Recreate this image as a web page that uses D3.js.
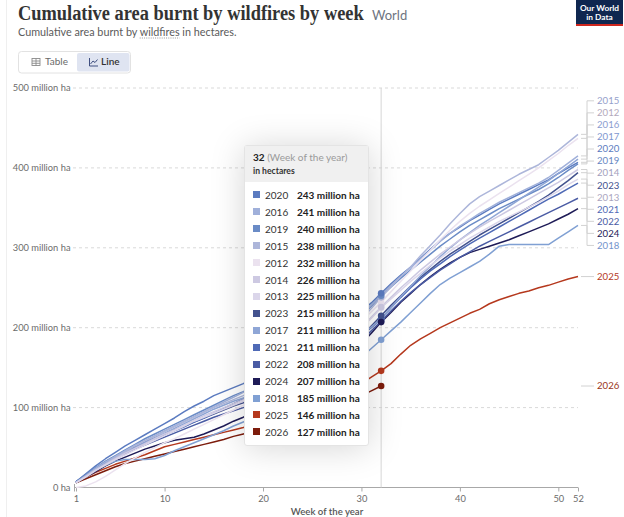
<!DOCTYPE html>
<html><head><meta charset="utf-8">
<script src="https://cdn.jsdelivr.net/npm/d3@7"></script>
<style>
body{margin:0;background:#fff;font-family:Lato,"Noto Sans",sans-serif;}
#wrap{position:relative;width:624px;height:517px;overflow:hidden;}
#tip{position:absolute;background:#fff;border:1px solid #e4e4e4;border-radius:3px;box-shadow:0 2px 34px rgba(0,0,0,0.17);font-family:Lato,sans-serif;color:#2d2d2d;}
#tip .hd{background:#f0f0f0;padding:5px 8px 0 8px;height:31px;box-sizing:content-box;}
#tip .t1{font-size:10px;line-height:13px;}
#tip .t1 b{font-weight:700;color:#222;}
#tip .t1 span{color:#9a9a9a;}
#tip .t2{font-size:8.6px;font-weight:700;color:#333;margin-top:2px;}
#tip table{border-collapse:collapse;margin:5px 0 0 8px;}
#tip td{font-size:10px;height:16.93px;padding:0;white-space:nowrap;}
#tip td.sw{width:12px;}
#tip td.sw div{width:7px;height:7px;}
#tip td.yr{width:32px;color:#333;}
#tip td.vl{font-weight:700;color:#222;}
</style></head>
<body><div id="wrap"><svg id="c" width="624" height="517"></svg><div id="tip"></div></div>
<script>
// ---------- data ----------
const weeks = [1,2,3,4,5,6,7,8,9,10,11,12,13,14,15,16,17,18,19,20,21,22,23,24,25,26,27,28,29,30,31,32,33,34,35,36,37,38,39,40,41,42,43,44,45,46,47,48,49,50,51,52];
const years = ["2012","2013","2014","2015","2016","2017","2018","2019","2020","2021","2022","2023","2024","2025","2026"];
const xTicks = [1,10,20,30,40,50,52];
const yTicks = [0,100,200,300,400,500];
const hoverWeek = 32;
// cumulative area burnt, million hectares, by week
const s2012 = [0,2,7,14,22,30,37,44,50,56,61,67,73,79,85,91,97,103,110,117,124,132,140,148,157,166,176,186,197,208,220,232,245,258,271,284,297,310,322,333,343,352,360,368,376,384,392,400,409,418,428,437];
const s2013 = [6,13,21,28,35,41,47,53,59,65,71,77,83,88,93,98,103,108,114,120,126,133,140,147,155,163,171,180,189,200,212,225,236,247,258,268,278,287,296,304,312,319,326,333,339,345,351,357,364,371,379,386];
const s2014 = [6,14,22,29,36,43,49,55,61,67,72,78,84,90,95,100,105,110,116,122,128,135,142,149,156,164,172,181,190,200,213,226,238,250,261,272,282,292,301,310,318,326,333,340,347,354,361,368,375,382,390,398];
const s2015 = [6,14,22,30,38,45,52,58,64,70,76,82,88,94,100,105,110,115,121,127,134,141,148,156,164,172,181,190,200,211,224,238,251,264,276,290,303,316,330,343,355,364,371,378,385,392,398,404,413,422,432,442];
const s2016 = [6,15,24,32,39,46,53,59,65,71,77,83,89,95,101,107,113,119,125,131,138,145,152,159,167,175,184,194,205,216,228,241,253,264,275,286,297,308,318,327,335,343,350,357,363,369,375,381,388,397,406,415];
const s2017 = [6,14,22,30,37,44,50,56,62,68,74,80,86,92,98,103,108,112,116,121,126,131,137,143,150,157,164,172,181,191,201,211,225,239,252,265,277,289,300,310,319,328,336,344,352,360,368,376,384,393,402,411];
const s2018 = [6,14,22,28,33,35,35,35,36,40,46,51,56,61,66,71,77,82,87,92,98,104,110,116,122,129,136,144,153,163,174,185,196,207,219,231,243,254,262,269,276,283,292,302,304,304,304,304,304,312,320,328];
const s2019 = [7,16,25,33,40,47,54,61,67,73,79,85,91,97,103,109,115,120,126,132,139,146,153,160,168,176,185,194,204,215,227,240,251,262,272,282,292,302,311,320,328,335,342,349,355,361,367,373,380,388,397,405];
const s2020 = [7,17,27,36,44,52,59,66,73,80,87,95,102,108,115,120,125,130,137,144,151,158,165,172,179,186,193,201,210,220,231,243,255,266,276,287,298,309,318,326,334,341,348,355,361,367,373,379,385,393,400,407];
const s2021 = [7,16,24,31,38,44,50,56,61,66,71,76,82,87,93,99,105,111,116,121,127,133,139,145,151,158,165,173,181,190,200,211,225,238,250,261,271,280,289,297,305,312,319,326,333,340,347,354,361,367,374,381];
const s2022 = [7,15,23,30,36,42,48,53,58,63,68,73,78,83,88,92,96,100,105,110,116,122,128,134,141,148,156,165,174,184,196,208,221,233,244,254,263,272,280,288,295,302,308,314,320,326,332,338,344,350,356,362];
const s2023 = [7,15,23,31,38,45,51,57,62,67,72,77,82,87,92,97,102,106,111,116,122,128,134,140,147,154,162,170,179,189,202,215,228,240,252,263,273,283,292,300,308,316,323,330,337,344,351,358,366,375,384,394];
const s2024 = [6,13,20,27,33,38,43,48,52,56,59,61,63,67,72,77,83,88,94,100,106,112,119,126,133,141,149,158,168,180,193,207,219,232,243,254,264,273,281,288,294,298,302,306,310,315,320,325,330,336,342,349];
const s2025 = [6,13,19,24,29,33,37,41,46,51,54,57,60,63,66,69,72,75,79,83,87,91,95,99,103,107,112,117,123,130,138,146,155,167,178,186,193,200,206,212,218,223,230,235,239,243,246,250,253,257,261,264];
const s2026 = [6,11,16,21,26,30,33,36,39,42,45,48,51,54,57,60,64,67,70,73,76,79,83,87,91,95,99,104,109,115,121,127];
const seriesValues = [s2012,s2013,s2014,s2015,s2016,s2017,s2018,s2019,s2020,s2021,s2022,s2023,s2024,s2025,s2026];

// ---------- styles ----------
const colors = {"2012":"#ebe2ef","2013":"#dbd6ea","2014":"#cdc9e2","2015":"#adb6da","2016":"#a0b0da","2017":"#8fa6d6","2018":"#80a0d3","2019":"#6a8bc6","2020":"#5b7bc0","2021":"#4f6ab6","2022":"#4a5ba4","2023":"#43528e","2024":"#1e1b57","2025":"#b5381d","2026":"#7d1c0c"};
const labelColors = {"2012":"#b3a9bb","2013":"#aaa5c0","2014":"#a39fbd","2015":"#95a0cb","2016":"#8b9dd0","2017":"#7e96cf","2018":"#7393cc","2019":"#6787c3","2020":"#5b7bc0","2021":"#4f6ab6","2022":"#4a5ba4","2023":"#43528e","2024":"#1e1b57","2025":"#b5381d","2026":"#9a3418"};

const series = years.map((y,i)=>({year:y, values:seriesValues[i].map((v,j)=>({w:weeks[j], v}))}));

const svg = d3.select("#c");
const x = d3.scaleLinear().domain([1,52]).range([76,578]);
const y = d3.scaleLinear().domain([0,500]).range([487.5,88]);

// frame line
svg.append("line").attr("x1",6.5).attr("x2",6.5).attr("y1",0).attr("y2",517).attr("stroke","#efefef");

// title
svg.append("text").attr("transform","translate(18,20) scale(1,1.13)").attr("x",0).attr("y",0)
  .attr("font-family","'Liberation Serif',serif").attr("font-weight",700)
  .attr("font-size",18.4).attr("fill","#333")
  .text("Cumulative area burnt by wildfires by week");
svg.append("text").attr("x",372).attr("y",20).attr("font-family","Lato").attr("font-size",13).attr("fill","#6e7581").text("World");
const sub = svg.append("text").attr("x",18).attr("y",35.5).attr("font-family","Lato").attr("font-size",10.8).attr("fill","#5b5b5b");
const t1 = sub.append("tspan").text("Cumulative area burnt by ");
const t2 = sub.append("tspan").text("wildfires");
sub.append("tspan").text(" in hectares.");
const ux0 = 18 + t1.node().getComputedTextLength();
const ux1 = ux0 + t2.node().getComputedTextLength();
svg.append("line").attr("x1",ux0).attr("x2",ux1).attr("y1",38).attr("y2",38).attr("stroke","#999").attr("stroke-dasharray","1,1.2");

// logo
svg.append("rect").attr("x",576).attr("y",0).attr("width",47).attr("height",26).attr("fill","#0f2750");
svg.append("rect").attr("x",576).attr("y",24).attr("width",47).attr("height",2).attr("fill","#ce261e");
svg.append("text").attr("x",599.5).attr("y",10.5).attr("text-anchor","middle").attr("font-family","Lato").attr("font-size",8.3).attr("font-weight",700).attr("fill","#fff").text("Our World");
svg.append("text").attr("x",599.5).attr("y",19.5).attr("text-anchor","middle").attr("font-family","Lato").attr("font-size",8.3).attr("font-weight",700).attr("fill","#fff").text("in Data");

// table / line switch
svg.append("rect").attr("x",18.5).attr("y",51.5).attr("width",112).attr("height",21.5).attr("rx",3).attr("fill","#fff").attr("stroke","#e2e2e2");
svg.append("rect").attr("x",77).attr("y",53).attr("width",52.5).attr("height",18.5).attr("rx",2).attr("fill","#dfe4f1");
const ti = svg.append("g").attr("stroke","#8a8a8a").attr("fill","none").attr("stroke-width",0.9);
ti.append("rect").attr("x",32).attr("y",58.5).attr("width",8).attr("height",7);
ti.append("line").attr("x1",32).attr("x2",40).attr("y1",61).attr("y2",61);
ti.append("line").attr("x1",32).attr("x2",40).attr("y1",63.3).attr("y2",63.3);
ti.append("line").attr("x1",36).attr("x2",36).attr("y1",58.5).attr("y2",65.5);
svg.append("text").attr("x",45).attr("y",65).attr("font-family","Lato").attr("font-size",10).attr("fill","#6a6a6a").text("Table");
const li = svg.append("g").attr("stroke","#3f4f80").attr("fill","none").attr("stroke-width",1);
li.append("path").attr("d","M89.5,58 V66 H98");
li.append("path").attr("d","M90.5,64 L93,61 L95,62.5 L97.5,59.5");
svg.append("text").attr("x",101).attr("y",65).attr("font-family","Lato").attr("font-size",10).attr("font-weight",600).attr("fill","#333").text("Line");

// grid + y labels
const grid = svg.append("g");
yTicks.forEach(t=>{
  if(t>0){
    grid.append("line").attr("x1",73).attr("x2",578).attr("y1",y(t)).attr("y2",y(t))
      .attr("stroke","#d9d9d9").attr("stroke-dasharray","3,3");
  }
  grid.append("text").attr("x",70.5).attr("y",y(t)).attr("dy","0.35em").attr("text-anchor","end")
    .attr("font-family","Lato").attr("font-size",9.3).attr("fill","#6b6b6b")
    .text(t===0?"0 ha":t+" million ha");
});

// x axis
const xa = svg.append("g").attr("transform","translate(0,487.5)")
  .call(d3.axisBottom(x).tickValues(xTicks).tickSize(4).tickPadding(4).tickFormat(d3.format("d")));
xa.select(".domain").attr("stroke","#a8a8a8").attr("d","M74.5,0H578");
xa.selectAll(".tick line").attr("stroke","#a8a8a8");
xa.selectAll(".tick text").attr("font-family","Lato").attr("font-size",9.3).attr("fill","#6b6b6b");
svg.append("line").attr("x1",74.5).attr("x2",74.5).attr("y1",484).attr("y2",491.5).attr("stroke","#a8a8a8");
svg.append("text").attr("x",327).attr("y",514.5).attr("text-anchor","middle").attr("font-family","Lato")
  .attr("font-size",9.6).attr("font-weight",600).attr("fill","#555").text("Week of the year");

// hover line
svg.append("line").attr("x1",x(hoverWeek)).attr("x2",x(hoverWeek)).attr("y1",88).attr("y2",487.5).attr("stroke","#d6d6d6");

// lines
const line = d3.line().x(d=>x(d.w)).y(d=>y(d.v));
svg.append("g").selectAll("path").data(series.slice().reverse()).join("path")
  .attr("d",d=>line(d.values)).attr("fill","none").attr("stroke",d=>colors[d.year])
  .attr("stroke-width",1.5).attr("stroke-linejoin","round");

// hover dots
svg.append("g").selectAll("circle").data(series).join("circle")
  .attr("cx",x(hoverWeek)).attr("cy",d=>y(d.values[hoverWeek-1].v)).attr("r",3.3)
  .attr("fill",d=>colors[d.year]);

// end labels with collision layout
const ends = series.map(s=>{const last=s.values[s.values.length-1];return {year:s.year, ideal:y(last.v)};})
  .sort((a,b)=>a.ideal-b.ideal);
const gap = 12.05;
let groups = ends.map(e=>({items:[e]}));
const center = g => d3.mean(g.items,d=>d.ideal);
let merged = true;
while(merged){
  merged=false;
  for(let i=0;i<groups.length-1;i++){
    const a=groups[i], b=groups[i+1];
    const aBot = center(a)+(a.items.length-1)*gap/2;
    const bTop = center(b)-(b.items.length-1)*gap/2;
    if(bTop-aBot<gap){ groups.splice(i,2,{items:a.items.concat(b.items)}); merged=true; break; }
  }
}
groups.forEach(g=>{const c=center(g), top=c-(g.items.length-1)*gap/2; g.items.forEach((it,k)=>it.ly=top+k*gap);});
const lg = svg.append("g");
ends.forEach(e=>{
  lg.append("path").attr("d",`M581,${e.ideal}H587V${e.ly}H594`).attr("fill","none").attr("stroke","#d2d2d2").attr("stroke-width",1);
  lg.append("text").attr("x",597).attr("y",e.ly).attr("dy","0.35em").attr("font-family","Lato").attr("font-size",9.6)
    .attr("fill",labelColors[e.year]).text(e.year);
});

// tooltip
const tipRows = series.map(s=>({year:s.year, v:s.values[hoverWeek-1].v}))
  .sort((a,b)=>b.v-a.v || a.year-b.year);
const tip = d3.select("#tip").style("left","244px").style("top","144.5px").style("width","123px").style("height","299px");
const hd = tip.append("div").attr("class","hd");
hd.append("div").attr("class","t1").html(`<b>${hoverWeek}</b> <span>(Week of the year)</span>`);
hd.append("div").attr("class","t2").text("in hectares");
const tb = tip.append("table");
const tr = tb.selectAll("tr").data(tipRows).join("tr");
tr.append("td").attr("class","sw").append("div").style("background",d=>colors[d.year]);
tr.append("td").attr("class","yr").text(d=>d.year);
tr.append("td").attr("class","vl").text(d=>d.v+" million ha");
</script></body></html>
